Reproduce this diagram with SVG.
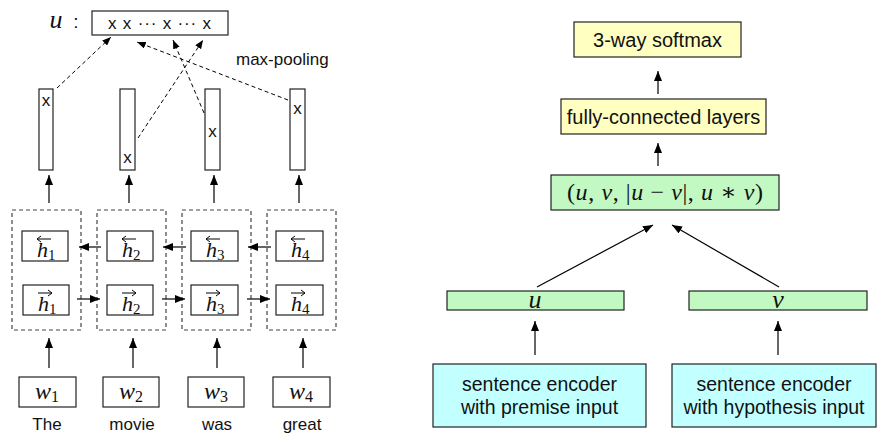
<svg xmlns="http://www.w3.org/2000/svg" width="877" height="434" viewBox="0 0 877 434">
<defs>
<marker id="ah" viewBox="0 0 10 8" refX="10" refY="4" markerWidth="10" markerHeight="8" markerUnits="userSpaceOnUse" orient="auto">
<path d="M0,0 L10,4 L0,8 z" fill="#000"/>
</marker>
<marker id="ahs" viewBox="0 0 10 8" refX="10" refY="4" markerWidth="9" markerHeight="7" markerUnits="userSpaceOnUse" orient="auto">
<path d="M0,0 L10,4 L0,8 z" fill="#000"/>
</marker>
</defs>
<style>
.box{fill:#fff;stroke:#222;stroke-width:1.2}
.dbox{fill:none;stroke:#444;stroke-width:1.2;stroke-dasharray:4,3}
.yel{fill:#ffffc2;stroke:#222;stroke-width:1.2}
.grn{fill:#c2f8c2;stroke:#222;stroke-width:1.2}
.cyn{fill:#c2ffff;stroke:#222;stroke-width:1.2}
.arr{stroke:#000;stroke-width:1.2;fill:none;marker-end:url(#ah)}
.darr{stroke:#000;stroke-width:1;fill:none;stroke-dasharray:4,3;marker-end:url(#ahs)}
.acc{stroke:#000;stroke-width:1;fill:none}
.sans{font-family:"Liberation Sans",Arial,sans-serif;fill:#111}
.math{font-family:"Liberation Serif","DejaVu Serif",serif;font-style:italic;fill:#111}
.rm{font-style:normal}
</style>

<!-- Left panel -->
<g id="u-label"><text class="math" x="56" y="28" font-size="26" text-anchor="middle">u</text><text class="sans" x="76" y="28" font-size="19" text-anchor="middle">:</text></g>
<g id="u-vector"><rect class="box" x="92" y="11" width="136" height="24"/><text class="sans" x="159.5" y="29" font-size="17" text-anchor="middle" textLength="103" lengthAdjust="spacing">x  x ··· x ··· x</text></g>
<g id="max-pooling-label"><text class="sans" x="236" y="65" font-size="17">max-pooling</text></g>

<g id="col1"><rect class="box" x="39" y="89" width="14" height="81"/><text class="sans" x="46" y="106" font-size="17" text-anchor="middle">x</text></g>
<g id="col2"><rect class="box" x="120" y="89" width="15" height="81"/><text class="sans" x="127.5" y="163" font-size="17" text-anchor="middle">x</text></g>
<g id="col3"><rect class="box" x="205" y="89" width="15" height="81"/><text class="sans" x="212.5" y="137" font-size="17" text-anchor="middle">x</text></g>
<g id="col4"><rect class="box" x="290" y="89" width="15" height="81"/><text class="sans" x="297.5" y="114" font-size="17" text-anchor="middle">x</text></g>

<g id="cell1"><rect class="dbox" x="12" y="210" width="69" height="120"/>
<rect class="box" x="22" y="231" width="46" height="30"/>
<rect class="box" x="23" y="285" width="46" height="30"/>
<text class="math" x="37" y="257" font-size="22">h<tspan class="rm" font-size="15" dy="3">1</tspan></text>
<text class="math" x="38" y="311" font-size="22">h<tspan class="rm" font-size="15" dy="3">1</tspan></text>
<path class="acc" d="M37,239 H51 M37,239 l4,-3 M37,239 l4,3"/>
<path class="acc" d="M38,293 H52 M52,293 l-4,-3 M52,293 l-4,3"/>
</g>
<g id="cell2"><rect class="dbox" x="97" y="210" width="69" height="120"/>
<rect class="box" x="107" y="231" width="46" height="30"/>
<rect class="box" x="107" y="285" width="46" height="30"/>
<text class="math" x="122" y="257" font-size="22">h<tspan class="rm" font-size="15" dy="3">2</tspan></text>
<text class="math" x="122" y="311" font-size="22">h<tspan class="rm" font-size="15" dy="3">2</tspan></text>
<path class="acc" d="M122,239 H136 M122,239 l4,-3 M122,239 l4,3"/>
<path class="acc" d="M122,293 H136 M136,293 l-4,-3 M136,293 l-4,3"/>
</g>
<g id="cell3"><rect class="dbox" x="182" y="210" width="69" height="120"/>
<rect class="box" x="191" y="231" width="47" height="30"/>
<rect class="box" x="191" y="285" width="47" height="30"/>
<text class="math" x="206" y="257" font-size="22">h<tspan class="rm" font-size="15" dy="3">3</tspan></text>
<text class="math" x="206" y="311" font-size="22">h<tspan class="rm" font-size="15" dy="3">3</tspan></text>
<path class="acc" d="M206,239 H220 M206,239 l4,-3 M206,239 l4,3"/>
<path class="acc" d="M206,293 H220 M220,293 l-4,-3 M220,293 l-4,3"/>
</g>
<g id="cell4"><rect class="dbox" x="267" y="210" width="69" height="120"/>
<rect class="box" x="276" y="231" width="47" height="30"/>
<rect class="box" x="276" y="285" width="47" height="30"/>
<text class="math" x="291" y="257" font-size="22">h<tspan class="rm" font-size="15" dy="3">4</tspan></text>
<text class="math" x="291" y="311" font-size="22">h<tspan class="rm" font-size="15" dy="3">4</tspan></text>
<path class="acc" d="M291,239 H305 M291,239 l4,-3 M291,239 l4,3"/>
<path class="acc" d="M291,293 H305 M305,293 l-4,-3 M305,293 l-4,3"/>
</g>

<g id="w1"><rect class="box" x="19" y="377" width="57" height="30"/><text class="math" x="47" y="399" font-size="24" text-anchor="middle">w<tspan class="rm" font-size="16" dy="3">1</tspan></text><text class="sans" x="47" y="430" font-size="17" text-anchor="middle">The</text></g>
<g id="w2"><rect class="box" x="103" y="377" width="56" height="30"/><text class="math" x="131" y="399" font-size="24" text-anchor="middle">w<tspan class="rm" font-size="16" dy="3">2</tspan></text><text class="sans" x="132" y="430" font-size="17" text-anchor="middle">movie</text></g>
<g id="w3"><rect class="box" x="188" y="377" width="56" height="30"/><text class="math" x="216" y="399" font-size="24" text-anchor="middle">w<tspan class="rm" font-size="16" dy="3">3</tspan></text><text class="sans" x="217" y="430" font-size="17" text-anchor="middle">was</text></g>
<g id="w4"><rect class="box" x="273" y="377" width="57" height="30"/><text class="math" x="301" y="399" font-size="24" text-anchor="middle">w<tspan class="rm" font-size="16" dy="3">4</tspan></text><text class="sans" x="302" y="430" font-size="17" text-anchor="middle">great</text></g>

<!-- Right panel -->
<g id="softmax"><rect class="yel" x="574" y="22" width="167" height="35"/><text class="sans" x="657.5" y="46.5" font-size="20" text-anchor="middle">3-way softmax</text></g>
<g id="fc"><rect class="yel" x="561" y="99" width="205" height="35"/><text class="sans" x="663.5" y="123.5" font-size="20" text-anchor="middle">fully-connected layers</text></g>
<g id="concat"><rect class="grn" x="551" y="175" width="228" height="35"/><text class="math" x="665" y="200" font-size="24" text-anchor="middle" textLength="196" lengthAdjust="spacing"><tspan class="rm">(</tspan>u<tspan class="rm">, </tspan>v<tspan class="rm">, |</tspan>u<tspan class="rm"> − </tspan>v<tspan class="rm">|, </tspan>u<tspan class="rm"> ∗ </tspan>v<tspan class="rm">)</tspan></text></g>
<g id="u-vec"><rect class="grn" x="447" y="291" width="177" height="19"/><text class="math" x="535" y="308" font-size="26" text-anchor="middle">u</text></g>
<g id="v-vec"><rect class="grn" x="689" y="291" width="178" height="19"/><text class="math" x="778" y="308" font-size="26" text-anchor="middle">v</text></g>
<g id="enc-premise"><rect class="cyn" x="433" y="364" width="213" height="63"/><text class="sans" x="539.5" y="391" font-size="19.5" text-anchor="middle">sentence encoder</text><text class="sans" x="539.5" y="414" font-size="19.5" text-anchor="middle">with premise input</text></g>
<g id="enc-hypothesis"><rect class="cyn" x="672" y="364" width="204" height="63"/><text class="sans" x="774" y="391" font-size="19.5" text-anchor="middle">sentence encoder</text><text class="sans" x="774" y="414" font-size="19.5" text-anchor="middle">with hypothesis input</text></g>

<g id="connectors">
<line class="darr" x1="57" y1="88" x2="111" y2="37"/>
<line class="darr" x1="138" y1="138" x2="203" y2="40"/>
<line class="darr" x1="204" y1="113" x2="173" y2="40"/>
<line class="darr" x1="288" y1="100" x2="137" y2="42"/>

<line class="arr" x1="49" y1="203" x2="49" y2="175"/>
<line class="arr" x1="129" y1="203" x2="129" y2="175"/>
<line class="arr" x1="214" y1="203" x2="214" y2="175"/>
<line class="arr" x1="299" y1="203" x2="299" y2="175"/>

<line class="arr" x1="101" y1="247" x2="79" y2="247"/>
<line class="arr" x1="186" y1="247" x2="163" y2="247"/>
<line class="arr" x1="271" y1="247" x2="248" y2="247"/>
<line class="arr" x1="77" y1="299" x2="100" y2="299"/>
<line class="arr" x1="162" y1="299" x2="185" y2="299"/>
<line class="arr" x1="247" y1="299" x2="270" y2="299"/>

<line class="arr" x1="49" y1="368" x2="49" y2="338"/>
<line class="arr" x1="133" y1="368" x2="133" y2="338"/>
<line class="arr" x1="217" y1="368" x2="217" y2="338"/>
<line class="arr" x1="303" y1="368" x2="303" y2="338"/>

<line class="arr" x1="658" y1="94" x2="658" y2="71"/>
<line class="arr" x1="658" y1="166" x2="658" y2="143"/>
<line class="arr" x1="537" y1="287" x2="653" y2="225"/>
<line class="arr" x1="779" y1="287" x2="672" y2="225"/>
<line class="arr" x1="535" y1="355" x2="535" y2="321"/>
<line class="arr" x1="778" y1="355" x2="778" y2="321"/>
</g>
</svg>
